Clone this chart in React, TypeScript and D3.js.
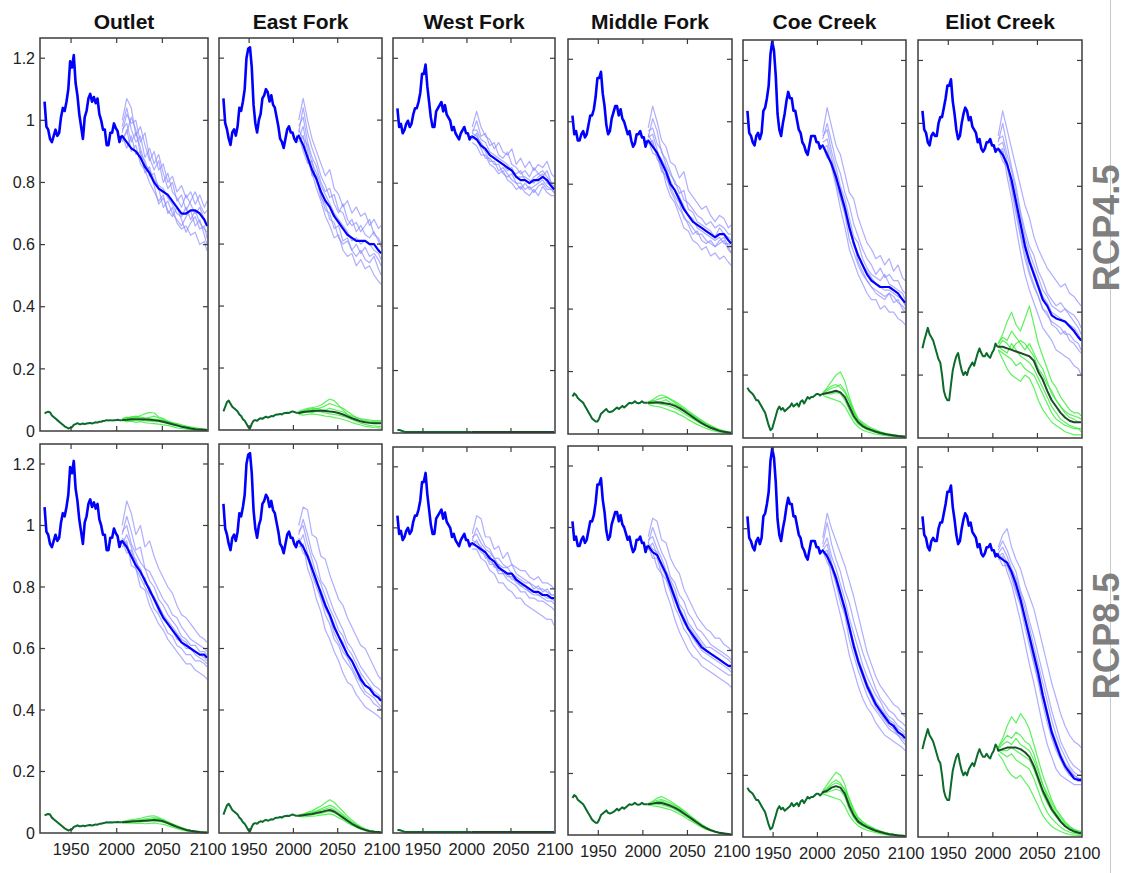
import React from 'react';
import * as d3 from 'd3';

const SITES = ['Outlet', 'East Fork', 'West Fork', 'Middle Fork', 'Coe Creek', 'Eliot Creek'];
const SCENARIOS = ['RCP4.5', 'RCP8.5'];
const HIST_YEARS = [1921, 1923, 1925, 1927, 1929, 1931, 1933, 1935, 1937, 1939, 1941, 1943, 1945, 1947, 1949, 1951, 1953, 1955, 1957, 1959, 1961, 1963, 1965, 1967, 1969, 1971, 1973, 1975, 1977, 1979, 1981, 1983, 1985, 1987, 1989, 1991, 1993, 1995, 1997, 1999, 2001, 2003, 2005];
const PROJ_YEARS = [2006, 2011, 2016, 2021, 2026, 2031, 2036, 2041, 2046, 2051, 2056, 2061, 2066, 2071, 2076, 2081, 2086, 2091, 2096, 2099];
const X_TICKS = [1950, 2000, 2050, 2100];
const Y_TICKS = [0, 0.2, 0.4, 0.6, 0.8, 1, 1.2];
const Y_TICK_LABELS = ['0', '0.2', '0.4', '0.6', '0.8', '1', '1.2'];

// ---------- historical (shared by both scenarios) ----------
const H_BLUE_OUTLET = [1.06, .98, .97, .94, .93, .95, .97, .95, .96, 1.01, 1.04, 1.03, 1.06, 1.10, 1.19, 1.17, 1.21, 1.12, 1.08, 1.02, .98, .94, 1.01, 1.03, 1.07, 1.085, 1.06, 1.075, 1.055, 1.07, 1.02, 1.0, .97, .97, .92, .92, .96, .96, .99, .975, .965, .93, .95];
const H_BLUE_EAST = [1.07, .99, .97, .94, .92, .96, .97, .95, .98, 1.04, 1.03, 1.06, 1.10, 1.20, 1.23, 1.235, 1.17, 1.05, .99, .96, 1.0, 1.02, 1.07, 1.08, 1.10, 1.09, 1.06, 1.08, 1.05, 1.04, 1.01, .98, .94, .93, .91, .94, .97, .98, .96, .96, .94, .93, .95];
const H_BLUE_WEST = [1.04, .98, .99, .96, .97, .99, 1.0, .98, .99, 1.02, 1.04, 1.04, 1.06, 1.09, 1.15, 1.15, 1.18, 1.11, 1.06, 1.01, .98, .98, 1.03, 1.04, 1.05, 1.06, 1.03, 1.05, 1.02, 1.01, 1.0, .97, .98, .96, .95, .94, .96, .97, .98, .96, .96, .94, .95];
const H_BLUE_MIDDLE = [1.02, .96, .97, .94, .94, .96, .97, .95, .96, .99, 1.02, 1.02, 1.04, 1.08, 1.14, 1.14, 1.16, 1.09, 1.05, .99, .96, .97, 1.01, 1.03, 1.05, 1.05, 1.02, 1.04, 1.01, 1.0, .98, .96, .97, .94, .92, .93, .96, .96, .97, .95, .95, .92, .94];
const H_BLUE_COE = [1.04, .97, .96, .94, .93, .96, .97, .95, .97, 1.04, 1.05, 1.08, 1.12, 1.22, 1.26, 1.23, 1.15, 1.03, .98, .96, 1.0, 1.03, 1.07, 1.1, 1.08, 1.08, 1.04, 1.04, 1.01, .98, .97, .94, .93, .91, .9, .93, .96, .96, .96, .94, .94, .92, .93];
const H_BLUE_ELIOT = [1.04, .98, .97, .94, .93, .96, .97, .96, .96, 1.0, 1.02, 1.02, 1.05, 1.08, 1.12, 1.12, 1.14, 1.07, 1.03, .98, .95, .96, 1.0, 1.03, 1.05, 1.04, 1.01, 1.02, .99, .98, .97, .94, .95, .92, .91, .92, .94, .94, .95, .93, .93, .91, .92];

const H_GREEN_OUTLET = [.057, .06, .062, .06, .05, .045, .04, .035, .03, .025, .02, .015, .012, .008, .01, .012, .02, .022, .025, .022, .022, .024, .022, .024, .025, .026, .024, .026, .028, .027, .03, .03, .032, .033, .035, .034, .035, .034, .035, .035, .036, .035, .035];
const H_GREEN_EAST = [.06, .075, .09, .095, .085, .075, .07, .065, .06, .05, .045, .035, .03, .02, .01, .005, .02, .03, .032, .03, .035, .038, .036, .04, .043, .04, .042, .045, .044, .048, .05, .05, .052, .05, .054, .055, .056, .055, .058, .06, .058, .056, .056];
const H_GREEN_WEST = [.01, .01, .008, .006, .004, .003, .003, .003, .003, .003, .003, .003, .003, .003, .003, .003, .003, .003, .003, .003, .003, .003, .003, .003, .003, .003, .003, .003, .003, .003, .003, .003, .003, .003, .003, .003, .003, .003, .003, .003, .003, .003, .003];
const H_GREEN_MIDDLE = [.12, .13, .125, .115, .11, .105, .10, .09, .08, .07, .06, .05, .045, .04, .04, .05, .065, .07, .075, .08, .072, .07, .072, .075, .08, .085, .08, .085, .09, .085, .09, .095, .1, .098, .1, .105, .1, .098, .1, .105, .1, .1, .1];
const H_GREEN_COE = [.16, .15, .145, .14, .13, .12, .12, .11, .10, .09, .08, .06, .04, .025, .03, .05, .07, .09, .10, .09, .095, .085, .09, .095, .10, .11, .10, .105, .11, .10, .115, .12, .11, .12, .13, .125, .13, .13, .135, .14, .14, .135, .14];
const H_GREEN_ELIOT = [.285, .31, .33, .35, .33, .32, .31, .29, .27, .25, .24, .2, .15, .13, .12, .12, .17, .215, .24, .26, .27, .24, .215, .2, .21, .2, .22, .23, .24, .23, .25, .27, .285, .27, .26, .26, .27, .26, .255, .27, .28, .3, .29];

// ---------- RCP4.5 projections ----------
const R45_BLUE_MEAN_OUTLET = [.95, .93, .91, .90, .88, .85, .83, .80, .78, .77, .76, .74, .72, .70, .70, .71, .71, .70, .68, .66];
const R45_BLUE_RUNS_OUTLET = [
  [1.0, 1.07, 1.04, .95, .98, .92, .87, .90, .84, .86, .80, .82, .77, .79, .75, .77, .73, .76, .72, .74],
  [.93, .97, .90, .92, .86, .84, .80, .77, .74, .76, .70, .72, .67, .65, .66, .63, .64, .60, .61, .58],
  [.96, 1.02, .99, 1.0, .93, .96, .88, .84, .87, .80, .83, .77, .75, .72, .76, .73, .70, .72, .68, .66],
  [.95, .91, .95, .89, .90, .83, .85, .79, .73, .75, .71, .69, .72, .68, .64, .67, .69, .65, .66, .62],
  [.98, 1.04, .97, .93, .95, .88, .91, .86, .89, .83, .78, .80, .74, .76, .71, .74, .77, .73, .70, .71],
  [.94, .96, 1.01, .97, .89, .87, .82, .83, .78, .72, .74, .70, .68, .66, .69, .71, .66, .68, .63, .60],
  [.97, .99, .93, .96, .91, .86, .84, .81, .79, .78, .75, .73, .70, .69, .72, .68, .71, .67, .65, .64],
];
const R45_BLUE_MEAN_EAST = [.95, .92, .88, .84, .81, .77, .74, .72, .69, .67, .65, .63, .62, .61, .61, .61, .60, .60, .58, .57];
const R45_BLUE_RUNS_EAST = [
  [1.0, 1.07, 1.0, .94, .90, .86, .82, .84, .78, .76, .72, .74, .70, .72, .69, .70, .66, .68, .65, .66],
  [.93, .95, .87, .83, .78, .74, .69, .66, .62, .63, .58, .56, .57, .53, .55, .52, .53, .50, .48, .47],
  [.96, 1.04, .96, .91, .87, .82, .79, .75, .76, .71, .70, .66, .68, .64, .66, .63, .62, .64, .61, .59],
  [.95, .90, .86, .87, .80, .76, .71, .70, .65, .66, .61, .62, .58, .60, .57, .59, .56, .57, .55, .53],
  [.98, 1.01, .93, .88, .85, .80, .77, .78, .73, .70, .73, .68, .66, .67, .64, .66, .68, .63, .62, .60],
  [.94, .98, .90, .82, .82, .75, .73, .68, .67, .62, .60, .61, .58, .56, .58, .55, .54, .56, .52, .50],
  [.97, .94, .92, .86, .83, .79, .76, .73, .70, .68, .66, .64, .61, .62, .60, .61, .60, .58, .57, .55],
];
const R45_BLUE_MEAN_WEST = [.95, .94, .92, .91, .89, .88, .87, .86, .85, .84, .82, .81, .81, .80, .81, .81, .82, .81, .79, .78];
const R45_BLUE_RUNS_WEST = [
  [.98, 1.03, .98, .95, .94, .91, .93, .90, .89, .91, .86, .88, .85, .87, .84, .86, .85, .87, .83, .82],
  [.93, .92, .89, .89, .86, .85, .83, .84, .81, .80, .78, .79, .77, .76, .78, .76, .79, .77, .76, .76],
  [.96, 1.0, .95, .96, .92, .93, .89, .88, .90, .86, .85, .83, .84, .82, .85, .83, .84, .82, .80, .79],
  [.95, .94, .91, .88, .88, .86, .86, .83, .82, .83, .80, .80, .78, .79, .77, .79, .80, .78, .78, .77],
  [.97, .97, .94, .93, .90, .89, .88, .87, .86, .84, .83, .84, .81, .80, .82, .83, .82, .84, .80, .80],
  [.94, .96, .92, .90, .87, .87, .84, .85, .83, .81, .80, .78, .80, .78, .79, .80, .81, .79, .78, .77],
  [.96, .95, .93, .91, .89, .88, .87, .86, .84, .85, .82, .82, .82, .81, .80, .82, .83, .80, .79, .78],
];
const R45_BLUE_MEAN_MIDDLE = [.94, .92, .90, .87, .84, .80, .78, .75, .72, .70, .68, .67, .66, .65, .64, .63, .64, .64, .62, .61];
const R45_BLUE_RUNS_MIDDLE = [
  [.98, 1.05, 1.0, .94, .92, .87, .86, .82, .84, .78, .76, .74, .72, .73, .70, .68, .70, .69, .66, .67],
  [.93, .94, .88, .86, .80, .76, .74, .70, .66, .65, .62, .61, .59, .60, .57, .58, .56, .57, .55, .54],
  [.95, 1.01, .97, .90, .88, .84, .80, .79, .75, .74, .72, .70, .69, .67, .68, .66, .67, .66, .64, .64],
  [.94, .90, .89, .84, .83, .78, .75, .72, .70, .67, .64, .65, .62, .61, .62, .60, .61, .62, .59, .58],
  [.97, .98, .93, .91, .86, .83, .81, .77, .78, .72, .71, .68, .67, .66, .65, .63, .66, .64, .63, .62],
  [.95, .96, .91, .85, .82, .79, .76, .74, .69, .68, .66, .64, .64, .62, .61, .60, .62, .63, .60, .58],
  [.96, .93, .90, .88, .85, .81, .78, .76, .73, .70, .69, .66, .65, .64, .63, .62, .63, .61, .61, .60],
];
const R45_BLUE_MEAN_COE = [.93, .90, .87, .83, .78, .73, .67, .62, .58, .55, .52, .50, .49, .48, .48, .48, .47, .46, .44, .43];
const R45_BLUE_RUNS_COE = [
  [.97, 1.05, .99, .93, .90, .84, .78, .76, .70, .66, .62, .60, .57, .58, .55, .57, .53, .55, .51, .50],
  [.92, .93, .86, .80, .73, .67, .60, .56, .52, .49, .46, .44, .44, .41, .42, .40, .40, .38, .37, .36],
  [.95, 1.0, .94, .88, .84, .78, .74, .68, .64, .60, .57, .55, .52, .54, .51, .52, .50, .50, .47, .46],
  [.93, .89, .88, .81, .76, .71, .63, .59, .55, .52, .50, .48, .46, .45, .44, .46, .43, .44, .41, .40],
  [.96, .98, .91, .86, .80, .76, .70, .64, .62, .57, .54, .52, .51, .50, .52, .49, .48, .47, .46, .44],
  [.94, .95, .89, .84, .77, .72, .66, .62, .56, .53, .50, .48, .47, .46, .45, .46, .45, .43, .42, .41],
  [.93, .91, .87, .82, .79, .74, .68, .61, .58, .55, .53, .51, .49, .48, .47, .47, .46, .45, .44, .42],
];
const R45_BLUE_MEAN_ELIOT = [.92, .90, .87, .82, .75, .68, .61, .56, .52, .48, .44, .42, .39, .38, .375, .37, .355, .34, .32, .31];
const R45_BLUE_RUNS_ELIOT = [
  [.96, 1.04, .98, .92, .86, .80, .74, .70, .64, .60, .57, .54, .52, .50, .48, .49, .46, .45, .43, .42],
  [.91, .92, .83, .76, .67, .59, .52, .47, .43, .39, .35, .33, .31, .28, .27, .26, .25, .23, .22, .20],
  [.94, 1.0, .93, .86, .80, .72, .66, .61, .58, .53, .50, .46, .44, .42, .43, .41, .40, .39, .37, .35],
  [.92, .88, .86, .79, .71, .64, .57, .52, .48, .45, .41, .40, .36, .35, .33, .34, .31, .30, .28, .27],
  [.95, .96, .90, .85, .78, .71, .64, .59, .55, .51, .47, .45, .42, .41, .40, .41, .39, .37, .35, .33],
  [.93, .94, .88, .80, .73, .65, .59, .53, .49, .45, .41, .39, .37, .36, .35, .33, .33, .31, .30, .28],
  [.92, .91, .87, .82, .76, .69, .62, .57, .53, .49, .45, .43, .40, .39, .38, .37, .36, .35, .33, .31],
];

const R45_GREEN_MEAN_OUTLET = [.035, .036, .038, .038, .038, .037, .036, .035, .033, .030, .026, .022, .018, .014, .011, .008, .006, .005, .004, .003];
const R45_GREEN_RUNS_OUTLET = [
  [.04, .045, .04, .044, .05, .055, .06, .058, .045, .04, .032, .025, .02, .015, .012, .008, .005, .004, .003, .002],
  [.035, .03, .032, .028, .03, .027, .025, .024, .022, .02, .018, .014, .01, .008, .006, .004, .003, .002, .002, .001],
  [.038, .042, .046, .044, .042, .04, .044, .048, .042, .036, .03, .026, .022, .018, .014, .011, .009, .007, .005, .004],
  [.033, .035, .034, .036, .035, .033, .032, .03, .03, .028, .024, .02, .016, .012, .01, .007, .005, .004, .003, .002],
  [.036, .04, .044, .048, .045, .042, .04, .038, .036, .034, .03, .027, .024, .02, .016, .013, .01, .008, .006, .005],
];
const R45_GREEN_MEAN_EAST = [.055, .058, .06, .061, .062, .062, .061, .06, .058, .055, .05, .044, .038, .033, .028, .025, .023, .022, .022, .022];
const R45_GREEN_RUNS_EAST = [
  [.06, .065, .07, .072, .075, .08, .09, .1, .095, .08, .065, .05, .04, .032, .028, .026, .025, .024, .023, .022],
  [.05, .048, .05, .052, .05, .048, .045, .044, .04, .038, .034, .03, .024, .02, .016, .012, .01, .008, .007, .006],
  [.058, .062, .066, .07, .068, .072, .078, .085, .08, .075, .07, .06, .05, .04, .035, .03, .028, .027, .026, .026],
  [.052, .055, .058, .056, .06, .058, .055, .052, .05, .048, .044, .04, .034, .028, .022, .018, .015, .013, .012, .012],
  [.056, .06, .064, .066, .07, .066, .064, .07, .066, .062, .058, .05, .045, .04, .036, .034, .032, .03, .03, .03],
];
const R45_GREEN_MEAN_WEST = [.003, .003, .003, .003, .003, .003, .003, .003, .003, .003, .003, .003, .003, .003, .003, .003, .003, .003, .003, .003];
const R45_GREEN_RUNS_WEST: number[][] = [];
const R45_GREEN_MEAN_MIDDLE = [.10, .10, .102, .10, .098, .095, .09, .083, .074, .064, .054, .044, .035, .027, .02, .015, .01, .007, .005, .004];
const R45_GREEN_RUNS_MIDDLE = [
  [.10, .11, .12, .125, .12, .11, .1, .09, .08, .07, .058, .048, .038, .03, .022, .016, .011, .008, .006, .004],
  [.095, .09, .088, .085, .08, .075, .07, .062, .055, .046, .038, .03, .024, .018, .013, .009, .006, .004, .003, .002],
  [.10, .105, .11, .115, .118, .112, .105, .095, .085, .074, .064, .054, .044, .035, .027, .02, .014, .01, .007, .005],
  [.098, .1, .098, .095, .092, .088, .082, .075, .066, .057, .048, .04, .032, .025, .019, .014, .01, .007, .005, .004],
  [.102, .108, .1, .104, .11, .1, .095, .088, .078, .068, .06, .05, .042, .033, .026, .019, .013, .009, .006, .005],
];
const R45_GREEN_MEAN_COE = [.14, .143, .146, .15, .145, .13, .10, .07, .05, .038, .03, .025, .02, .016, .013, .01, .008, .006, .005, .004];
const R45_GREEN_RUNS_COE = [
  [.14, .16, .18, .2, .21, .18, .13, .09, .06, .045, .035, .028, .022, .018, .014, .011, .009, .007, .006, .005],
  [.135, .13, .125, .12, .115, .1, .075, .05, .035, .025, .02, .016, .012, .01, .008, .006, .005, .004, .003, .002],
  [.145, .155, .165, .17, .16, .145, .115, .08, .055, .042, .034, .028, .023, .019, .015, .012, .01, .008, .006, .005],
  [.14, .14, .14, .145, .14, .12, .09, .062, .044, .034, .027, .022, .018, .014, .011, .009, .007, .005, .004, .003],
  [.142, .15, .158, .162, .17, .15, .12, .085, .06, .05, .04, .032, .026, .02, .016, .013, .01, .008, .007, .006],
];
const R45_GREEN_MEAN_ELIOT = [.29, .29, .285, .28, .275, .27, .265, .26, .245, .21, .185, .15, .12, .10, .08, .065, .055, .05, .05, .05];
const R45_GREEN_RUNS_ELIOT = [
  [.3, .33, .37, .4, .36, .34, .38, .42, .36, .3, .26, .22, .18, .16, .13, .11, .09, .08, .08, .07],
  [.28, .25, .22, .2, .19, .18, .2, .19, .16, .12, .09, .07, .05, .04, .03, .02, .015, .01, .01, .01],
  [.3, .32, .31, .34, .32, .3, .28, .3, .27, .24, .22, .18, .14, .12, .1, .085, .075, .07, .065, .06],
  [.28, .27, .26, .25, .23, .24, .22, .21, .2, .17, .14, .11, .08, .06, .05, .04, .035, .03, .03, .03],
  [.29, .31, .3, .28, .3, .31, .3, .28, .26, .22, .2, .17, .15, .12, .1, .08, .065, .06, .05, .05],
  [.29, .28, .27, .3, .28, .26, .25, .24, .22, .19, .16, .13, .1, .08, .06, .05, .04, .035, .03, .02],
];

// ---------- RCP8.5 projections ----------
const R85_BLUE_MEAN_OUTLET = [.95, .93, .90, .87, .85, .82, .79, .76, .73, .70, .68, .66, .64, .62, .61, .60, .59, .58, .58, .57];
const R85_BLUE_RUNS_OUTLET = [
  [1.0, 1.08, 1.04, .97, 1.0, .93, .95, .90, .86, .83, .80, .78, .74, .71, .70, .68, .66, .64, .63, .62],
  [.93, .95, .87, .86, .80, .79, .74, .71, .68, .66, .63, .61, .59, .57, .55, .55, .53, .52, .51, .50],
  [.97, 1.03, .98, .92, .93, .86, .85, .82, .79, .76, .74, .71, .70, .67, .65, .63, .62, .61, .60, .59],
  [.95, .91, .92, .86, .83, .80, .77, .73, .71, .68, .65, .64, .61, .60, .58, .58, .56, .56, .55, .54],
  [.98, 1.0, .94, .91, .88, .86, .82, .80, .76, .74, .71, .69, .67, .64, .63, .61, .61, .59, .59, .58],
  [.94, .97, .93, .88, .86, .81, .80, .76, .72, .70, .68, .66, .63, .62, .60, .60, .58, .57, .56, .55],
  [.96, .94, .90, .89, .84, .83, .78, .77, .74, .71, .69, .67, .65, .63, .62, .60, .59, .58, .57, .56],
];
const R85_BLUE_MEAN_EAST = [.95, .93, .90, .86, .82, .78, .74, .71, .67, .64, .61, .58, .56, .53, .50, .48, .47, .45, .44, .43];
const R85_BLUE_RUNS_EAST = [
  [1.0, 1.06, 1.05, .97, .96, .90, .89, .84, .80, .76, .74, .70, .67, .64, .61, .60, .57, .54, .51, .50],
  [.93, .94, .86, .82, .76, .72, .66, .63, .59, .56, .52, .49, .48, .45, .43, .41, .40, .39, .38, .37],
  [.97, 1.02, .97, .91, .88, .82, .80, .76, .72, .69, .66, .62, .60, .57, .54, .52, .50, .48, .47, .46],
  [.95, .91, .90, .84, .80, .76, .71, .68, .63, .61, .57, .55, .53, .50, .47, .45, .44, .42, .41, .40],
  [.98, 1.0, .94, .89, .84, .81, .77, .73, .70, .66, .64, .60, .58, .55, .52, .50, .48, .46, .45, .44],
  [.94, .97, .91, .87, .82, .77, .73, .70, .65, .62, .59, .57, .54, .51, .49, .46, .45, .44, .42, .41],
  [.96, .93, .89, .86, .81, .79, .75, .71, .68, .64, .62, .58, .56, .53, .51, .48, .47, .45, .44, .43],
];
const R85_BLUE_MEAN_WEST = [.95, .94, .93, .92, .90, .89, .87, .86, .85, .85, .83, .82, .81, .80, .79, .79, .78, .78, .77, .77];
const R85_BLUE_RUNS_WEST = [
  [.98, 1.04, 1.03, .97, .97, .93, .94, .90, .92, .88, .87, .86, .86, .84, .83, .84, .82, .82, .81, .80],
  [.93, .93, .90, .89, .86, .85, .82, .82, .80, .79, .77, .77, .75, .74, .73, .72, .71, .70, .70, .68],
  [.96, 1.0, .97, .94, .93, .90, .90, .88, .87, .88, .85, .84, .83, .82, .81, .80, .80, .79, .78, .78],
  [.95, .94, .92, .91, .88, .88, .85, .85, .83, .82, .81, .79, .79, .77, .77, .76, .76, .75, .74, .73],
  [.97, .98, .95, .93, .92, .90, .88, .87, .87, .85, .84, .83, .82, .82, .80, .81, .79, .80, .78, .78],
  [.94, .96, .93, .92, .89, .88, .86, .86, .84, .84, .82, .81, .80, .79, .78, .78, .77, .76, .76, .75],
  [.96, .95, .94, .90, .91, .87, .88, .85, .85, .83, .83, .81, .81, .79, .79, .78, .78, .77, .77, .76],
];
const R85_BLUE_MEAN_MIDDLE = [.94, .92, .91, .88, .85, .81, .77, .73, .70, .67, .65, .63, .61, .60, .59, .58, .57, .56, .55, .55];
const R85_BLUE_RUNS_MIDDLE = [
  [.97, 1.03, 1.02, .96, .95, .90, .87, .85, .80, .77, .74, .71, .69, .67, .66, .64, .64, .62, .61, .60],
  [.93, .92, .87, .85, .79, .75, .70, .66, .63, .60, .58, .57, .55, .54, .53, .52, .51, .50, .49, .48],
  [.95, 1.0, .96, .92, .89, .84, .82, .78, .76, .72, .70, .67, .66, .64, .62, .61, .60, .59, .58, .57],
  [.94, .90, .90, .85, .83, .79, .74, .71, .67, .65, .62, .60, .58, .57, .56, .55, .54, .53, .52, .52],
  [.96, .97, .93, .90, .86, .83, .80, .75, .73, .69, .67, .65, .63, .61, .61, .60, .59, .58, .57, .56],
  [.93, .95, .91, .87, .84, .80, .76, .73, .69, .67, .64, .62, .60, .59, .58, .57, .56, .55, .54, .53],
  [.95, .93, .92, .88, .85, .82, .78, .74, .71, .68, .66, .64, .62, .60, .59, .58, .57, .56, .55, .54],
];
const R85_BLUE_MEAN_COE = [.93, .91, .88, .84, .79, .74, .68, .62, .57, .53, .49, .46, .43, .41, .39, .37, .36, .34, .33, .32];
const R85_BLUE_RUNS_COE = [
  [.97, 1.05, 1.0, .96, .92, .88, .83, .78, .72, .66, .60, .56, .52, .49, .47, .45, .43, .42, .40, .39],
  [.92, .92, .84, .78, .72, .66, .59, .54, .49, .45, .42, .40, .37, .35, .33, .32, .31, .30, .29, .28],
  [.95, 1.02, .95, .90, .86, .80, .76, .70, .65, .60, .56, .52, .48, .45, .43, .41, .40, .38, .37, .36],
  [.93, .89, .87, .82, .76, .72, .64, .59, .54, .50, .46, .43, .41, .39, .37, .35, .34, .33, .31, .30],
  [.94, .97, .91, .87, .82, .77, .71, .66, .61, .56, .52, .49, .46, .44, .41, .39, .38, .36, .35, .34],
  [.93, .95, .89, .83, .78, .73, .67, .61, .56, .52, .48, .45, .42, .40, .38, .36, .35, .33, .32, .31],
  [.92, .93, .88, .85, .80, .74, .69, .63, .58, .54, .50, .47, .44, .42, .40, .38, .37, .35, .34, .33],
];
const R85_BLUE_MEAN_ELIOT = [.91, .90, .89, .86, .82, .77, .71, .65, .59, .53, .46, .40, .34, .30, .26, .23, .21, .19, .185, .185];
const R85_BLUE_RUNS_ELIOT = [
  [.94, .98, 1.0, .94, .90, .87, .82, .78, .74, .68, .62, .56, .50, .45, .40, .36, .33, .31, .30, .29],
  [.90, .91, .86, .82, .76, .70, .63, .56, .50, .43, .36, .30, .26, .22, .20, .19, .18, .17, .17, .17],
  [.93, .96, .93, .89, .86, .80, .76, .70, .65, .59, .53, .47, .41, .36, .31, .28, .25, .23, .22, .21],
  [.91, .88, .88, .84, .79, .75, .68, .62, .56, .50, .43, .37, .32, .28, .25, .22, .20, .19, .18, .18],
  [.92, .94, .91, .87, .84, .79, .74, .68, .62, .56, .50, .44, .38, .33, .29, .26, .23, .21, .20, .20],
  [.91, .92, .89, .85, .80, .76, .70, .64, .57, .51, .45, .39, .33, .29, .26, .23, .21, .20, .19, .19],
  [.92, .90, .88, .86, .81, .77, .71, .66, .60, .54, .47, .41, .35, .31, .27, .24, .22, .20, .19, .18],
];

const R85_GREEN_MEAN_OUTLET = [.035, .036, .037, .038, .039, .04, .041, .042, .041, .038, .032, .026, .02, .015, .01, .007, .005, .003, .002, .002];
const R85_GREEN_RUNS_OUTLET = [
  [.037, .04, .043, .045, .048, .052, .055, .056, .05, .044, .036, .028, .022, .016, .011, .008, .005, .003, .002, .002],
  [.034, .032, .033, .031, .032, .03, .031, .033, .03, .028, .024, .019, .014, .01, .007, .005, .003, .002, .001, .001],
  [.036, .039, .041, .04, .043, .046, .048, .05, .047, .042, .036, .03, .024, .018, .013, .009, .006, .004, .003, .002],
  [.035, .035, .036, .038, .037, .038, .04, .04, .038, .035, .03, .024, .018, .013, .009, .006, .004, .003, .002, .001],
  [.036, .037, .038, .041, .042, .042, .044, .046, .044, .04, .034, .027, .021, .016, .012, .008, .006, .004, .003, .002],
];
const R85_GREEN_MEAN_EAST = [.056, .058, .06, .062, .065, .068, .072, .075, .07, .06, .05, .04, .03, .022, .015, .01, .006, .004, .003, .002];
const R85_GREEN_RUNS_EAST = [
  [.058, .062, .068, .072, .08, .088, .098, .108, .1, .085, .07, .055, .042, .03, .021, .014, .009, .006, .004, .003],
  [.054, .052, .054, .055, .056, .058, .06, .062, .058, .05, .042, .033, .025, .018, .012, .008, .005, .003, .002, .001],
  [.057, .06, .064, .068, .072, .078, .084, .09, .084, .072, .06, .048, .036, .026, .018, .012, .008, .005, .004, .003],
  [.055, .056, .058, .06, .062, .064, .068, .07, .066, .058, .048, .038, .029, .021, .014, .009, .006, .004, .003, .002],
  [.056, .059, .062, .066, .07, .074, .078, .082, .076, .066, .055, .044, .034, .025, .017, .011, .007, .005, .003, .002],
];
const R85_GREEN_MEAN_WEST = [.003, .003, .003, .003, .003, .003, .003, .003, .003, .003, .003, .003, .003, .003, .003, .003, .003, .003, .003, .003];
const R85_GREEN_RUNS_WEST: number[][] = [];
const R85_GREEN_MEAN_MIDDLE = [.10, .102, .105, .104, .10, .095, .088, .08, .07, .06, .05, .04, .03, .022, .016, .011, .007, .005, .003, .002];
const R85_GREEN_RUNS_MIDDLE = [
  [.10, .11, .12, .125, .118, .11, .1, .09, .08, .068, .056, .045, .034, .025, .018, .012, .008, .005, .003, .002],
  [.098, .095, .093, .09, .086, .082, .076, .068, .06, .05, .042, .033, .025, .018, .013, .009, .006, .004, .002, .001],
  [.102, .108, .113, .115, .11, .104, .096, .088, .077, .066, .055, .044, .033, .024, .017, .012, .008, .005, .003, .002],
  [.099, .1, .1, .098, .094, .09, .083, .075, .066, .056, .047, .038, .029, .021, .015, .01, .007, .004, .003, .002],
  [.101, .105, .108, .11, .104, .098, .092, .084, .074, .063, .052, .042, .032, .023, .017, .011, .007, .005, .003, .002],
];
const R85_GREEN_MEAN_COE = [.145, .15, .16, .165, .16, .14, .10, .07, .05, .04, .032, .026, .02, .016, .012, .009, .007, .005, .004, .003];
const R85_GREEN_RUNS_COE = [
  [.15, .17, .19, .21, .2, .17, .12, .085, .06, .048, .038, .03, .024, .019, .014, .011, .008, .006, .005, .004],
  [.14, .135, .13, .125, .12, .1, .07, .05, .036, .028, .022, .018, .014, .011, .008, .006, .005, .004, .003, .002],
  [.148, .16, .175, .185, .175, .15, .11, .078, .055, .044, .035, .028, .022, .017, .013, .01, .008, .006, .004, .003],
  [.143, .145, .15, .155, .15, .13, .09, .062, .045, .036, .029, .023, .018, .014, .011, .008, .006, .005, .003, .002],
  [.146, .155, .168, .175, .17, .155, .125, .09, .064, .05, .04, .032, .025, .019, .015, .011, .009, .007, .005, .004],
];
const R85_GREEN_MEAN_ELIOT = [.28, .285, .29, .29, .29, .285, .275, .26, .23, .19, .15, .12, .09, .07, .05, .035, .025, .018, .014, .012];
const R85_GREEN_RUNS_ELIOT = [
  [.29, .32, .36, .39, .37, .4, .38, .35, .3, .25, .2, .16, .12, .09, .07, .05, .035, .025, .02, .018],
  [.27, .25, .22, .2, .19, .2, .18, .16, .13, .1, .07, .05, .035, .025, .018, .012, .008, .006, .005, .004],
  [.29, .31, .33, .32, .34, .33, .31, .3, .27, .22, .17, .13, .1, .075, .055, .04, .028, .02, .016, .013],
  [.28, .27, .26, .27, .25, .24, .23, .22, .19, .15, .11, .08, .06, .045, .032, .022, .016, .012, .009, .007],
  [.285, .3, .31, .3, .32, .3, .29, .28, .25, .21, .17, .14, .11, .085, .063, .045, .032, .024, .018, .015],
  [.28, .28, .28, .29, .28, .27, .26, .25, .22, .18, .14, .11, .085, .065, .048, .035, .025, .018, .014, .012],
];

// ---------- tables built from the arrays ----------
const HIST = [
  { blue: H_BLUE_OUTLET, green: H_GREEN_OUTLET },
  { blue: H_BLUE_EAST, green: H_GREEN_EAST },
  { blue: H_BLUE_WEST, green: H_GREEN_WEST },
  { blue: H_BLUE_MIDDLE, green: H_GREEN_MIDDLE },
  { blue: H_BLUE_COE, green: H_GREEN_COE },
  { blue: H_BLUE_ELIOT, green: H_GREEN_ELIOT },
];
const PROJ = [
  [
    { bm: R45_BLUE_MEAN_OUTLET, br: R45_BLUE_RUNS_OUTLET, gm: R45_GREEN_MEAN_OUTLET, gr: R45_GREEN_RUNS_OUTLET },
    { bm: R45_BLUE_MEAN_EAST, br: R45_BLUE_RUNS_EAST, gm: R45_GREEN_MEAN_EAST, gr: R45_GREEN_RUNS_EAST },
    { bm: R45_BLUE_MEAN_WEST, br: R45_BLUE_RUNS_WEST, gm: R45_GREEN_MEAN_WEST, gr: R45_GREEN_RUNS_WEST },
    { bm: R45_BLUE_MEAN_MIDDLE, br: R45_BLUE_RUNS_MIDDLE, gm: R45_GREEN_MEAN_MIDDLE, gr: R45_GREEN_RUNS_MIDDLE },
    { bm: R45_BLUE_MEAN_COE, br: R45_BLUE_RUNS_COE, gm: R45_GREEN_MEAN_COE, gr: R45_GREEN_RUNS_COE },
    { bm: R45_BLUE_MEAN_ELIOT, br: R45_BLUE_RUNS_ELIOT, gm: R45_GREEN_MEAN_ELIOT, gr: R45_GREEN_RUNS_ELIOT },
  ],
  [
    { bm: R85_BLUE_MEAN_OUTLET, br: R85_BLUE_RUNS_OUTLET, gm: R85_GREEN_MEAN_OUTLET, gr: R85_GREEN_RUNS_OUTLET },
    { bm: R85_BLUE_MEAN_EAST, br: R85_BLUE_RUNS_EAST, gm: R85_GREEN_MEAN_EAST, gr: R85_GREEN_RUNS_EAST },
    { bm: R85_BLUE_MEAN_WEST, br: R85_BLUE_RUNS_WEST, gm: R85_GREEN_MEAN_WEST, gr: R85_GREEN_RUNS_WEST },
    { bm: R85_BLUE_MEAN_MIDDLE, br: R85_BLUE_RUNS_MIDDLE, gm: R85_GREEN_MEAN_MIDDLE, gr: R85_GREEN_RUNS_MIDDLE },
    { bm: R85_BLUE_MEAN_COE, br: R85_BLUE_RUNS_COE, gm: R85_GREEN_MEAN_COE, gr: R85_GREEN_RUNS_COE },
    { bm: R85_BLUE_MEAN_ELIOT, br: R85_BLUE_RUNS_ELIOT, gm: R85_GREEN_MEAN_ELIOT, gr: R85_GREEN_RUNS_ELIOT },
  ],
];

// ---------- layout ----------
const W = 1127;
const H = 873;
const X_DOMAIN = [1916, 2100];
const Y_DOMAIN = [0, 1.265];
const COL_X = [[40, 208], [219, 382], [393, 555], [568, 732], [743, 906], [918, 1082]];
const ROW_Y = [
  [[38, 431], [38, 430], [38, 433], [39, 434], [40, 438], [40, 438]],
  [[444, 833], [444, 833], [447, 833], [446, 835], [447, 837], [447, 837]],
];
const FONT = '"Liberation Sans", Arial, Helvetica, sans-serif';
const C_BLUE = '#0000ff';
const C_BLUE_RUN = '#8c8cff';
const C_GREEN_HIST = '#0b6b2a';
const C_GREEN_RUN = '#33ee33';
const C_GREEN_MEAN = '#1d4a2a';
const C_FRAME = '#3c3c3c';
const C_TEXT = '#222';

function Panel({ row, col }: { row: number; col: number }) {
  const [x0, x1] = COL_X[col];
  const [y0, y1] = ROW_Y[row][col];
  const x = d3.scaleLinear().domain(X_DOMAIN).range([x0, x1]);
  const y = d3.scaleLinear().domain(Y_DOMAIN).range([y1, y0]);
  const line = d3.line<[number, number]>().x((d) => x(d[0])).y((d) => y(d[1]));
  const hist = HIST[col];
  const proj = PROJ[row][col];
  const hPts = (vals: number[]) => HIST_YEARS.map((yr, i) => [yr, vals[i]] as [number, number]);
  const pPts = (vals: number[]) => PROJ_YEARS.map((yr, i) => [yr, vals[i]] as [number, number]);
  const lastYear = HIST_YEARS[HIST_YEARS.length - 1];
  const meanBluePts: [number, number][] = [[lastYear, hist.blue[hist.blue.length - 1]], ...pPts(proj.bm)];
  const meanGreenPts: [number, number][] = [[lastYear, hist.green[hist.green.length - 1]], ...pPts(proj.gm)];
  const tick = 5;
  return (
    <g>
      <rect x={x0} y={y0} width={x1 - x0} height={y1 - y0} fill="#fff" />
      {proj.gr.map((r, i) => (
        <path key={'gr' + i} d={line(pPts(r)) || ''} fill="none" stroke={C_GREEN_RUN} strokeOpacity={0.8} strokeWidth={1.2} strokeLinejoin="round" />
      ))}
      <path d={line(hPts(hist.green)) || ''} fill="none" stroke={C_GREEN_HIST} strokeWidth={2} strokeLinejoin="round" />
      <path d={line(meanGreenPts) || ''} fill="none" stroke={C_GREEN_MEAN} strokeWidth={2} strokeLinejoin="round" />
      {proj.br.map((r, i) => (
        <path key={'br' + i} d={line(pPts(r)) || ''} fill="none" stroke={C_BLUE_RUN} strokeOpacity={0.7} strokeWidth={1.2} strokeLinejoin="round" />
      ))}
      <path d={line(hPts(hist.blue)) || ''} fill="none" stroke={C_BLUE} strokeWidth={2.6} strokeLinejoin="round" />
      <path d={line(meanBluePts) || ''} fill="none" stroke={C_BLUE} strokeWidth={2.2} strokeLinejoin="round" />
      <rect x={x0} y={y0} width={x1 - x0} height={y1 - y0} fill="none" stroke={C_FRAME} strokeWidth={1.5} />
      {X_TICKS.filter((t) => t < X_DOMAIN[1]).map((t) => (
        <g key={'xt' + t}>
          <line x1={x(t)} x2={x(t)} y1={y0} y2={y0 + tick} stroke={C_FRAME} strokeWidth={1.2} />
          <line x1={x(t)} x2={x(t)} y1={y1} y2={y1 - tick} stroke={C_FRAME} strokeWidth={1.2} />
        </g>
      ))}
      {Y_TICKS.filter((t) => t > 0).map((t) => (
        <g key={'yt' + t}>
          <line x1={x0} x2={x0 + tick} y1={y(t)} y2={y(t)} stroke={C_FRAME} strokeWidth={1.2} />
          <line x1={x1} x2={x1 - tick} y1={y(t)} y2={y(t)} stroke={C_FRAME} strokeWidth={1.2} />
        </g>
      ))}
      {col === 0 &&
        Y_TICKS.map((t, i) => (
          <text key={'yl' + t} x={x0 - 5} y={y(t)} dy="0.36em" textAnchor="end" fontFamily={FONT} fontSize={16} fill={C_TEXT}>
            {Y_TICK_LABELS[i]}
          </text>
        ))}
      {row === 1 &&
        X_TICKS.map((t) => (
          <text key={'xl' + t} x={x(t)} y={y1 + 22} textAnchor="middle" fontFamily={FONT} fontSize={16.5} fill={C_TEXT}>
            {String(t)}
          </text>
        ))}
      {row === 0 && (
        <text x={(x0 + x1) / 2} y={29} textAnchor="middle" fontFamily={FONT} fontSize={21} fontWeight="bold" fill="#111">
          {SITES[col]}
        </text>
      )}
    </g>
  );
}

export default function App() {
  const labelCenters = [228, 636];
  return (
    <svg width={W} height={H} style={{ position: 'absolute', left: 0, top: 0, background: '#fff' }}>
      <rect x={0} y={0} width={W} height={H} fill="#fff" />
      <line x1={1110.5} x2={1110.5} y1={0} y2={H} stroke="#c8c8c8" strokeWidth={1} />
      {SCENARIOS.map((s, r) =>
        SITES.map((_, c) => <Panel key={s + c} row={r} col={c} />)
      )}
      {SCENARIOS.map((s, r) => (
        <text
          key={s}
          transform={`translate(1119, ${labelCenters[r]}) rotate(-90)`}
          textAnchor="middle"
          fontFamily={FONT}
          fontSize={36}
          fontWeight="bold"
          fill="#7f7f7f"
          textLength={127}
          lengthAdjust="spacingAndGlyphs"
        >
          {s}
        </text>
      ))}
    </svg>
  );
}
